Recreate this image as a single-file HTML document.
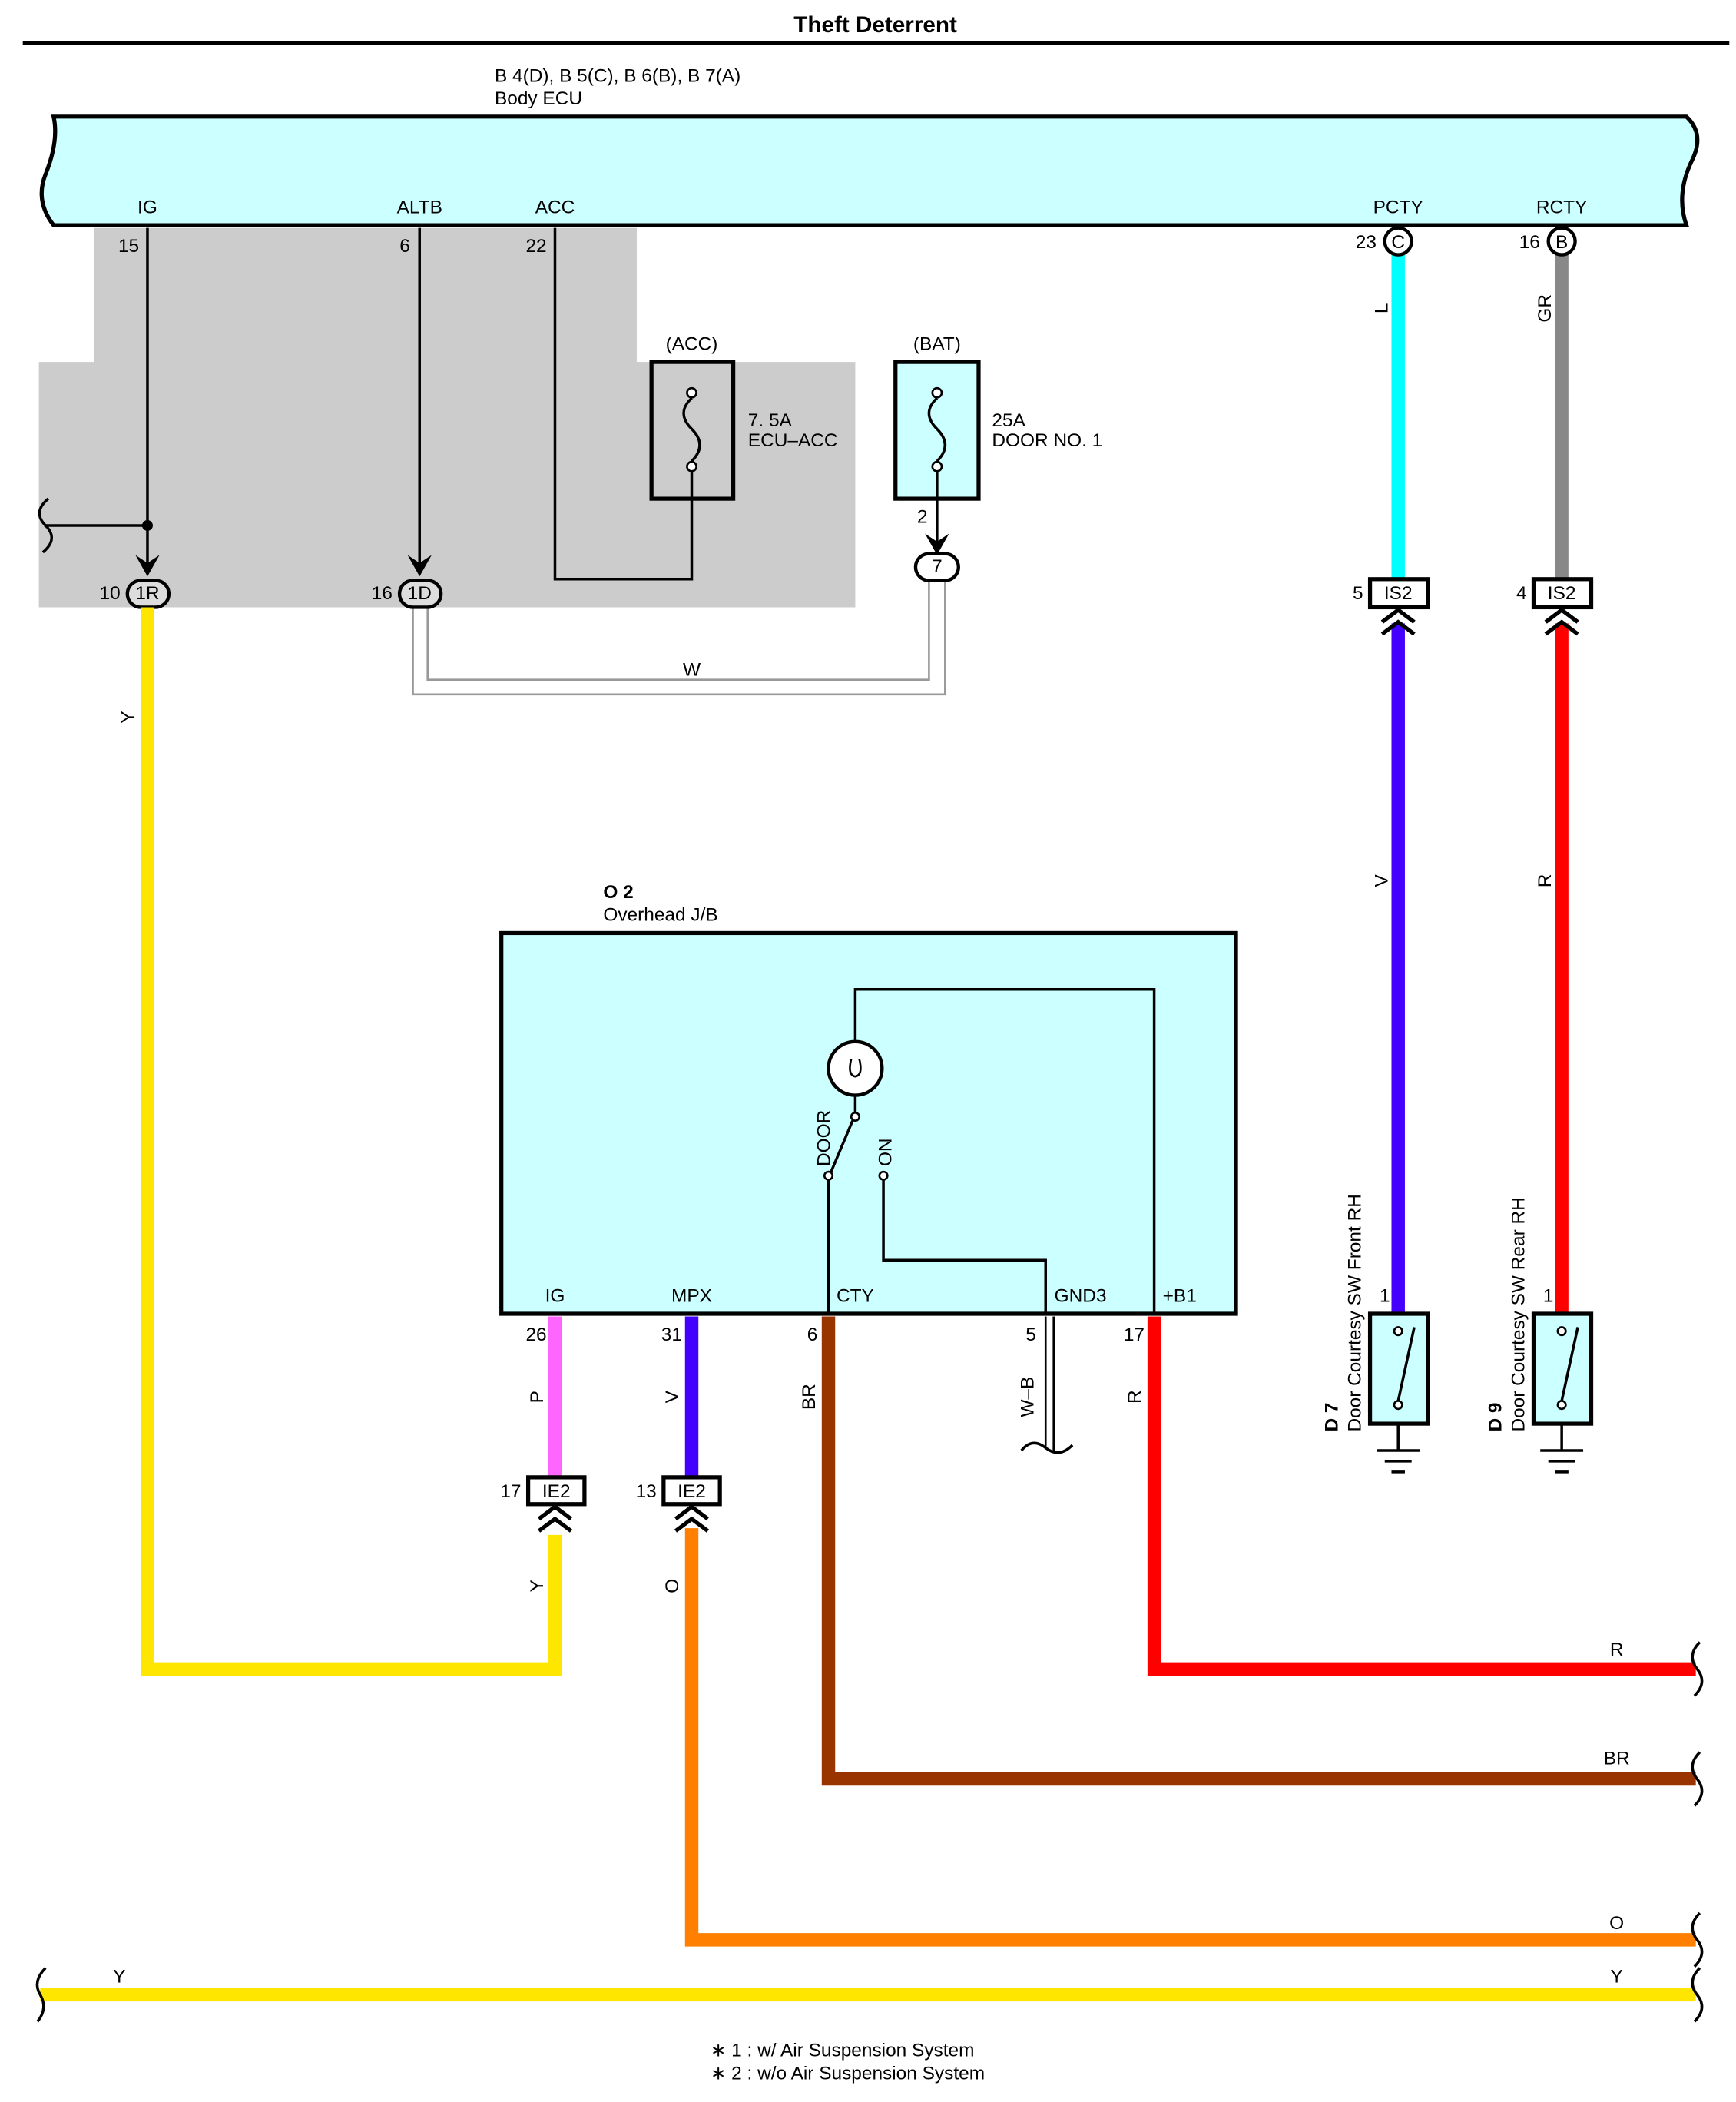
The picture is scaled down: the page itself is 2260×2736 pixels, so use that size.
<!DOCTYPE html>
<html><head><meta charset="utf-8"><style>
html,body{margin:0;padding:0;background:#fff}
svg{display:block}
text{font-family:"Liberation Sans",Arial,sans-serif;font-size:14px;fill:#000}
</style></head><body>
<svg width="2260" height="2736" viewBox="0 0 1295 1568" preserveAspectRatio="none" xmlns="http://www.w3.org/2000/svg">
<rect width="1300" height="1574" fill="#fff"/>
<text x="653" y="24" text-anchor="middle" style="font-weight:bold;font-size:17px">Theft Deterrent</text>
<line x1="17" y1="32" x2="1290" y2="32" stroke="#000" stroke-width="3"/>
<text x="369" y="61" style="font-size:14px">B 4(D), B 5(C), B 6(B), B 7(A)</text>
<text x="369" y="78">Body ECU</text>

<polygon points="70,170 475,170 475,270 638,270 638,453 29,453 29,270 70,270" fill="#cccccc"/>

<path d="M40,87 L1258,87 Q1272,100 1262,120 Q1250,145 1258,168 L40,168 Q26,150 34,130 Q44,105 40,87 Z" fill="#ccffff" stroke="#000" stroke-width="3"/>
<g text-anchor="middle">
<text x="110" y="159">IG</text><text x="313" y="159">ALTB</text><text x="414" y="159">ACC</text>
<text x="1043" y="159">PCTY</text><text x="1165" y="159">RCTY</text>
<text x="96" y="188">15</text><text x="302" y="188">6</text><text x="400" y="188">22</text>
</g>

<path d="M308,452 L308,518 L705,518 L705,430" fill="none" stroke="#999" stroke-width="1.5"/>
<path d="M319,452 L319,507 L693,507 L693,430" fill="none" stroke="#999" stroke-width="1.5"/>
<text x="516" y="504" text-anchor="middle">W</text>

<line x1="110" y1="170" x2="110" y2="420" stroke="#000" stroke-width="2"/>
<line x1="110" y1="392" x2="33" y2="392" stroke="#000" stroke-width="2"/>
<path d="M36,372 Q24,382 34,392 Q44,402 32,412" fill="none" stroke="#000" stroke-width="2"/>
<circle cx="110" cy="392" r="4"/>
<path d="M101,414 L110,430 L119,414 L110,420 Z"/>
<line x1="313" y1="170" x2="313" y2="420" stroke="#000" stroke-width="2"/>
<path d="M304,414 L313,430 L322,414 L313,420 Z"/>
<path d="M414,170 L414,432 L516,432 L516,348" fill="none" stroke="#000" stroke-width="2"/>

<rect x="95" y="433" width="31" height="20" rx="10" fill="#ddd" stroke="#000" stroke-width="2.5"/>
<text x="110" y="447" text-anchor="middle">1R</text>
<text x="82" y="447" text-anchor="middle">10</text>
<rect x="298" y="433" width="31" height="20" rx="10" fill="#ddd" stroke="#000" stroke-width="2.5"/>
<text x="313" y="447" text-anchor="middle">1D</text>
<text x="285" y="447" text-anchor="middle">16</text>

<rect x="486" y="270" width="61" height="102" fill="none" stroke="#000" stroke-width="3"/>
<text x="516" y="261" text-anchor="middle">(ACC)</text>
<circle cx="516" cy="293" r="3.5" fill="#fff" stroke="#000" stroke-width="1.5"/>
<circle cx="516" cy="348" r="3.5" fill="#fff" stroke="#000" stroke-width="1.5"/>
<path d="M516,297 Q504,308 516,320 Q528,332 516,344" fill="none" stroke="#000" stroke-width="2"/>
<text x="558" y="318">7. 5A</text><text x="558" y="333">ECU–ACC</text>

<rect x="668" y="270" width="62" height="102" fill="#ccffff" stroke="#000" stroke-width="3"/>
<text x="699" y="261" text-anchor="middle">(BAT)</text>
<circle cx="699" cy="293" r="3.5" fill="#fff" stroke="#000" stroke-width="1.5"/>
<circle cx="699" cy="348" r="3.5" fill="#fff" stroke="#000" stroke-width="1.5"/>
<path d="M699,297 Q687,308 699,320 Q711,332 699,344" fill="none" stroke="#000" stroke-width="2"/>
<text x="740" y="318">25A</text><text x="740" y="333">DOOR NO. 1</text>
<line x1="699" y1="352" x2="699" y2="405" stroke="#000" stroke-width="2"/>
<path d="M690,398 L699,414 L708,398 L699,404 Z"/>
<text x="688" y="390" text-anchor="middle">2</text>
<rect x="683" y="413" width="32" height="20" rx="10" fill="#fff" stroke="#000" stroke-width="2.5"/>
<text x="699" y="427" text-anchor="middle">7</text>

<path d="M110,453 L110,1245 L414,1245 L414,1145" fill="none" stroke="#ffe600" stroke-width="10"/>
<text transform="translate(100,535) rotate(-90)" text-anchor="middle">Y</text>

<line x1="1043" y1="190" x2="1043" y2="432" stroke="#00ffff" stroke-width="10"/>
<circle cx="1043" cy="180" r="10" fill="#fff" stroke="#000" stroke-width="2.5"/>
<text x="1043" y="185" text-anchor="middle">C</text>
<text x="1019" y="185" text-anchor="middle">23</text>
<text transform="translate(1035,230) rotate(-90)" text-anchor="middle">L</text>
<line x1="1043" y1="465" x2="1043" y2="980" stroke="#4400ff" stroke-width="10"/>
<rect x="1022" y="432" width="43" height="21" fill="#fff" stroke="#000" stroke-width="3"/>
<text x="1043" y="447" text-anchor="middle">IS2</text>
<text x="1013" y="447" text-anchor="middle">5</text>
<path d="M1031,464 L1043,455 L1055,464 M1031,473 L1043,464 L1055,473" fill="none" stroke="#000" stroke-width="3"/>
<text transform="translate(1035,657) rotate(-90)" text-anchor="middle">V</text>

<line x1="1165" y1="190" x2="1165" y2="432" stroke="#888" stroke-width="10"/>
<circle cx="1165" cy="180" r="10" fill="#fff" stroke="#000" stroke-width="2.5"/>
<text x="1165" y="185" text-anchor="middle">B</text>
<text x="1141" y="185" text-anchor="middle">16</text>
<text transform="translate(1157,230) rotate(-90)" text-anchor="middle">GR</text>
<line x1="1165" y1="465" x2="1165" y2="980" stroke="#ff0000" stroke-width="10"/>
<rect x="1144" y="432" width="43" height="21" fill="#fff" stroke="#000" stroke-width="3"/>
<text x="1165" y="447" text-anchor="middle">IS2</text>
<text x="1135" y="447" text-anchor="middle">4</text>
<path d="M1153,464 L1165,455 L1177,464 M1153,473 L1165,464 L1177,473" fill="none" stroke="#000" stroke-width="3"/>
<text transform="translate(1157,657) rotate(-90)" text-anchor="middle">R</text>

<g>
<rect x="1022" y="980" width="43" height="82" fill="#ccffff" stroke="#000" stroke-width="3"/>
<circle cx="1043" cy="993" r="3" fill="#fff" stroke="#000" stroke-width="1.5"/>
<circle cx="1043" cy="1048" r="3" fill="#fff" stroke="#000" stroke-width="1.5"/>
<line x1="1043" y1="1045" x2="1055" y2="990" stroke="#000" stroke-width="2"/>
<line x1="1043" y1="1062" x2="1043" y2="1082" stroke="#000" stroke-width="2"/>
<line x1="1027" y1="1082" x2="1059" y2="1082" stroke="#000" stroke-width="2"/>
<line x1="1033" y1="1090" x2="1053" y2="1090" stroke="#000" stroke-width="2"/>
<line x1="1038" y1="1098" x2="1048" y2="1098" stroke="#000" stroke-width="2"/>
<text x="1033" y="971" text-anchor="middle">1</text>
<text transform="translate(998,1068) rotate(-90)" style="font-weight:bold">D 7</text>
<text transform="translate(1015,1068) rotate(-90)">Door Courtesy SW Front RH</text>
</g>
<g>
<rect x="1144" y="980" width="43" height="82" fill="#ccffff" stroke="#000" stroke-width="3"/>
<circle cx="1165" cy="993" r="3" fill="#fff" stroke="#000" stroke-width="1.5"/>
<circle cx="1165" cy="1048" r="3" fill="#fff" stroke="#000" stroke-width="1.5"/>
<line x1="1165" y1="1045" x2="1177" y2="990" stroke="#000" stroke-width="2"/>
<line x1="1165" y1="1062" x2="1165" y2="1082" stroke="#000" stroke-width="2"/>
<line x1="1149" y1="1082" x2="1181" y2="1082" stroke="#000" stroke-width="2"/>
<line x1="1155" y1="1090" x2="1175" y2="1090" stroke="#000" stroke-width="2"/>
<line x1="1160" y1="1098" x2="1170" y2="1098" stroke="#000" stroke-width="2"/>
<text x="1155" y="971" text-anchor="middle">1</text>
<text transform="translate(1120,1068) rotate(-90)" style="font-weight:bold">D 9</text>
<text transform="translate(1137,1068) rotate(-90)">Door Courtesy SW Rear RH</text>
</g>

<text x="450" y="670" style="font-weight:bold">O 2</text>
<text x="450" y="687">Overhead J/B</text>
<rect x="374" y="696" width="548" height="284" fill="#ccffff" stroke="#000" stroke-width="3"/>
<path d="M638,777 L638,738 L861,738 L861,980" fill="none" stroke="#000" stroke-width="2"/>
<circle cx="638" cy="797" r="20" fill="#fff" stroke="#000" stroke-width="2.5"/>
<path d="M635,790 Q632,802 638,803 Q644,802 641,790" fill="none" stroke="#000" stroke-width="1.5"/>
<line x1="638" y1="817" x2="638" y2="830" stroke="#000" stroke-width="2"/>
<circle cx="638" cy="833" r="3" fill="#fff" stroke="#000" stroke-width="1.5"/>
<line x1="636" y1="836" x2="620" y2="874" stroke="#000" stroke-width="2"/>
<circle cx="618" cy="877" r="3" fill="#fff" stroke="#000" stroke-width="1.5"/>
<line x1="618" y1="880" x2="618" y2="980" stroke="#000" stroke-width="2"/>
<circle cx="659" cy="877" r="3" fill="#fff" stroke="#000" stroke-width="1.5"/>
<path d="M659,880 L659,940 L780,940 L780,980" fill="none" stroke="#000" stroke-width="2"/>
<text transform="translate(619,870) rotate(-90)">DOOR</text>
<text transform="translate(665,870) rotate(-90)">ON</text>
<g text-anchor="middle">
<text x="414" y="971">IG</text><text x="516" y="971">MPX</text><text x="638" y="971">CTY</text>
<text x="806" y="971">GND3</text><text x="880" y="971">+B1</text>
<text x="400" y="1000">26</text><text x="501" y="1000">31</text><text x="606" y="1000">6</text>
<text x="769" y="1000">5</text><text x="846" y="1000">17</text>
</g>

<line x1="414" y1="982" x2="414" y2="1102" stroke="#ff66ff" stroke-width="10"/>
<text transform="translate(405,1042) rotate(-90)" text-anchor="middle">P</text>
<line x1="516" y1="982" x2="516" y2="1102" stroke="#4400ff" stroke-width="10"/>
<text transform="translate(506,1042) rotate(-90)" text-anchor="middle">V</text>
<path d="M516,1140 L516,1447 L1265,1447" fill="none" stroke="#ff7f00" stroke-width="10"/>
<text transform="translate(506,1183) rotate(-90)" text-anchor="middle">O</text>
<text transform="translate(405,1183) rotate(-90)" text-anchor="middle">Y</text>
<path d="M618,982 L618,1327 L1265,1327" fill="none" stroke="#993300" stroke-width="10"/>
<text transform="translate(608,1042) rotate(-90)" text-anchor="middle">BR</text>
<path d="M861,982 L861,1245 L1265,1245" fill="none" stroke="#ff0000" stroke-width="10"/>
<text transform="translate(851,1042) rotate(-90)" text-anchor="middle">R</text>
<line x1="780" y1="982" x2="780" y2="1080" stroke="#000" stroke-width="1.5"/>
<line x1="786" y1="982" x2="786" y2="1082" stroke="#000" stroke-width="1.5"/>
<path d="M762,1082 Q770,1072 780,1080 Q790,1088 800,1078" fill="none" stroke="#000" stroke-width="2"/>
<text transform="translate(771,1042) rotate(-90)" text-anchor="middle">W–B</text>

<rect x="394" y="1102" width="42" height="20" fill="#fff" stroke="#000" stroke-width="3"/>
<text x="415" y="1117" text-anchor="middle">IE2</text>
<text x="381" y="1117" text-anchor="middle">17</text>
<path d="M402,1133 L414,1124 L426,1133 M402,1142 L414,1133 L426,1142" fill="none" stroke="#000" stroke-width="3"/>
<rect x="495" y="1102" width="42" height="20" fill="#fff" stroke="#000" stroke-width="3"/>
<text x="516" y="1117" text-anchor="middle">IE2</text>
<text x="482" y="1117" text-anchor="middle">13</text>
<path d="M504,1133 L516,1124 L528,1133 M504,1142 L516,1133 L528,1142" fill="none" stroke="#000" stroke-width="3"/>

<line x1="30" y1="1488" x2="1265" y2="1488" stroke="#ffe600" stroke-width="10"/>
<text x="89" y="1479" text-anchor="middle">Y</text>
<text x="1206" y="1479" text-anchor="middle">Y</text>
<text x="1206" y="1235" text-anchor="middle">R</text>
<text x="1206" y="1316" text-anchor="middle">BR</text>
<text x="1206" y="1439" text-anchor="middle">O</text>

<g fill="none" stroke="#000" stroke-width="2">
<path d="M1268,1225 Q1258,1235 1266,1245 Q1274,1255 1264,1265"/>
<path d="M1268,1307 Q1258,1317 1266,1327 Q1274,1337 1264,1347"/>
<path d="M1268,1427 Q1258,1437 1266,1447 Q1274,1457 1264,1467"/>
<path d="M1268,1468 Q1258,1478 1266,1488 Q1274,1498 1264,1508"/>
<path d="M34,1468 Q24,1478 30,1488 Q36,1498 28,1508"/>
</g>

<text x="530" y="1534">∗ 1 : w/ Air Suspension System</text>
<text x="530" y="1551">∗ 2 : w/o Air Suspension System</text>
</svg>
</body></html>
